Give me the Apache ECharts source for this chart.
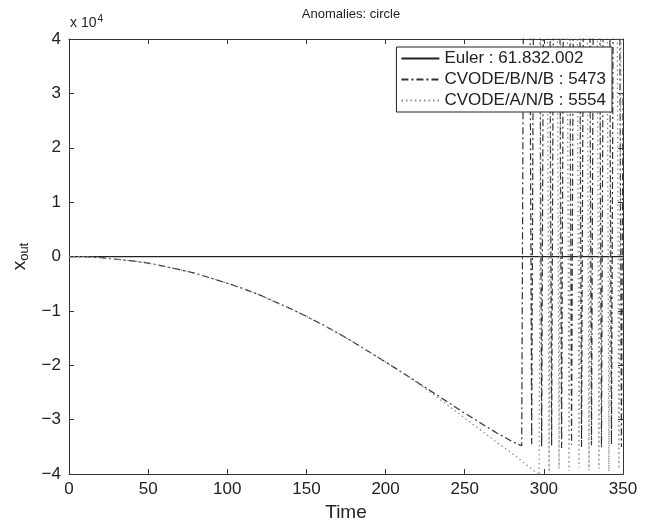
<!DOCTYPE html>
<html>
<head>
<meta charset="utf-8">
<script src="https://cdn.jsdelivr.net/npm/echarts@6/dist/echarts.min.js"></script>
<style>
  html, body { margin: 0; padding: 0; background: #fff; }
  #chart { width: 648px; height: 527px; }
</style>
</head>
<body>
<div id="chart"></div>
<script>
// data (x_out in plain units, axis shows x 10^4)
var eulerTime = [0, 350];
var eulerValues = [0, 0];

// smooth decline, then the solver blows up into fast swings far past the axis
var cvodeBTime = [0, 10, 20, 30, 40, 50, 60, 70, 80, 90, 100, 110, 120, 130, 140, 150, 160, 170, 180, 190, 200, 210, 220, 230, 240, 250, 260, 270, 280, 286,
  289.2, 292.3, 295.5, 298.6, 301.8, 304.9, 308.1, 311.2, 314.4, 317.5, 320.7, 323.8, 327, 330.1, 333.3, 336.4, 339.6, 342.7, 345.9, 349, 350];
var cvodeBValues = [0, 0, -200, -500, -800, -1200, -1800, -2400, -3100, -4000, -4900, -5900, -7000, -8300, -9600, -11000, -12500, -14100, -15800, -17600, -19400, -21200, -23100, -25000, -26900, -28800, -30600, -32400, -34000, -34800,
  200000, -34500, 200000, -35000, 200000, -34800, 200000, -35200, 200000, -34600, 200000, -35000, 200000, -34700, 200000, -35100, 200000, -34600, 200000, -35000, 30000];

var cvodeATime = [0, 10, 20, 30, 40, 50, 60, 70, 80, 90, 100, 110, 120, 130, 140, 150, 160, 170, 180, 190, 200, 210, 220, 230, 240, 250, 260, 270, 280, 290, 297,
  300.2, 303.3, 306.5, 309.6, 312.8, 315.9, 319.1, 322.2, 325.4, 328.5, 331.7, 334.8, 338, 341.1, 344.3, 347.4, 350];
var cvodeAValues = [0, 0, -200, -500, -800, -1200, -1800, -2400, -3100, -4000, -4900, -5900, -7000, -8300, -9600, -11000, -12500, -14100, -15800, -17600, -19400, -21300, -23200, -25300, -27500, -29700, -31900, -34100, -36200, -38500, -40200,
  200000, -39600, 200000, -39000, 200000, -39400, 200000, -38800, 200000, -39300, 200000, -39000, 200000, -39500, 200000, -39000, 120000];

var xTicks = [0, 50, 100, 150, 200, 250, 300, 350];
var yTicks = [-40000, -30000, -20000, -10000, 0, 10000, 20000, 30000, 40000];

function pairs(ts, vs) {
  return ts.map(function (t, i) { return [t, vs[i]]; });
}

var font = 'Liberation Sans, Arial, sans-serif';
var ink = '#222';
var axisLine = { show: true, onZero: false, lineStyle: { color: '#333', width: 1 } };
var tick = { show: true, inside: true, length: 5, lineStyle: { color: '#333' } };

var chart = echarts.init(document.getElementById('chart'), null, { renderer: 'canvas' });

var option = {
  animation: false,
  backgroundColor: '#fff',
  title: {
    text: 'Anomalies: circle',
    left: 346,
    textAlign: 'center',
    top: 3,
    textStyle: { fontFamily: font, fontSize: 13, fontWeight: 'normal', color: ink }
  },
  grid: { left: 69, right: 25, top: 39, bottom: 52 },
  legend: {
    orient: 'vertical',
    right: 36,
    top: 47,
    padding: [3, 6, 3, 4],
    itemGap: 4,
    itemWidth: 38,
    itemHeight: 14,
    backgroundColor: '#fff',
    borderColor: '#222',
    borderWidth: 1,
    borderRadius: 0,
    itemStyle: { opacity: 0 },
    textStyle: { fontFamily: font, fontSize: 17, color: ink },
    data: ['Euler : 61.832.002', 'CVODE/B/N/B : 5473', 'CVODE/A/N/B : 5554']
  },
  xAxis: [{
    type: 'value',
    min: xTicks[0], max: xTicks[xTicks.length - 1], interval: 50,
    name: 'Time',
    nameLocation: 'middle',
    nameGap: 27,
    nameTextStyle: { fontFamily: font, fontSize: 19, color: ink },
    axisLine: axisLine, axisTick: tick,
    splitLine: { show: false },
    axisLabel: { fontFamily: font, fontSize: 17, color: ink, margin: 7 }
  }, {
    type: 'value', position: 'top',
    min: xTicks[0], max: xTicks[xTicks.length - 1], interval: 50,
    axisLine: axisLine, axisTick: tick,
    splitLine: { show: false }, axisLabel: { show: false }
  }],
  yAxis: [{
    type: 'value',
    min: yTicks[0], max: yTicks[yTicks.length - 1], interval: 10000,
    name: 'x{s|out}',
    nameLocation: 'middle',
    nameGap: 33,
    nameRotate: 90,
    nameTextStyle: {
      fontFamily: font, fontSize: 19, color: ink,
      rich: { s: { fontFamily: font, fontSize: 13, color: ink, padding: [9, 0, 0, 0] } }
    },
    axisLine: axisLine, axisTick: tick,
    splitLine: { show: false },
    axisLabel: {
      fontFamily: font, fontSize: 17, color: ink, margin: 8,
      formatter: function (v) {
        var n = Math.round(v / 10000);
        return n < 0 ? '\u2212' + (-n) : String(n);
      }
    }
  }, {
    type: 'value', position: 'right',
    min: yTicks[0], max: yTicks[yTicks.length - 1], interval: 10000,
    axisLine: axisLine, axisTick: tick,
    splitLine: { show: false }, axisLabel: { show: false }
  }],
  graphic: [{
    type: 'text',
    left: 70, top: 14,
    style: {
      text: 'x 10{p|4}',
      fontFamily: font, fontSize: 14, fill: ink,
      rich: { p: { fontFamily: font, fontSize: 10, fill: ink, padding: [0, 0, 8, 1] } }
    }
  }],
  series: [{
    name: 'Euler : 61.832.002',
    type: 'line',
    data: pairs(eulerTime, eulerValues),
    showSymbol: false, symbol: 'none',
    lineStyle: { color: '#222', width: 1.2, type: 'solid' },
    itemStyle: { color: '#222' },
    z: 3
  }, {
    name: 'CVODE/B/N/B : 5473',
    type: 'line',
    data: pairs(cvodeBTime, cvodeBValues),
    showSymbol: false, symbol: 'none',
    clip: true,
    lineStyle: { color: '#333', width: 1.2, type: [7, 3, 2, 3] },
    itemStyle: { color: '#333' }
  }, {
    name: 'CVODE/A/N/B : 5554',
    type: 'line',
    data: pairs(cvodeATime, cvodeAValues),
    showSymbol: false, symbol: 'none',
    clip: true,
    lineStyle: { color: '#888', width: 1.2, type: [1.5, 3] },
    itemStyle: { color: '#888' }
  }]
};

chart.setOption(option);
</script>
</body>
</html>
